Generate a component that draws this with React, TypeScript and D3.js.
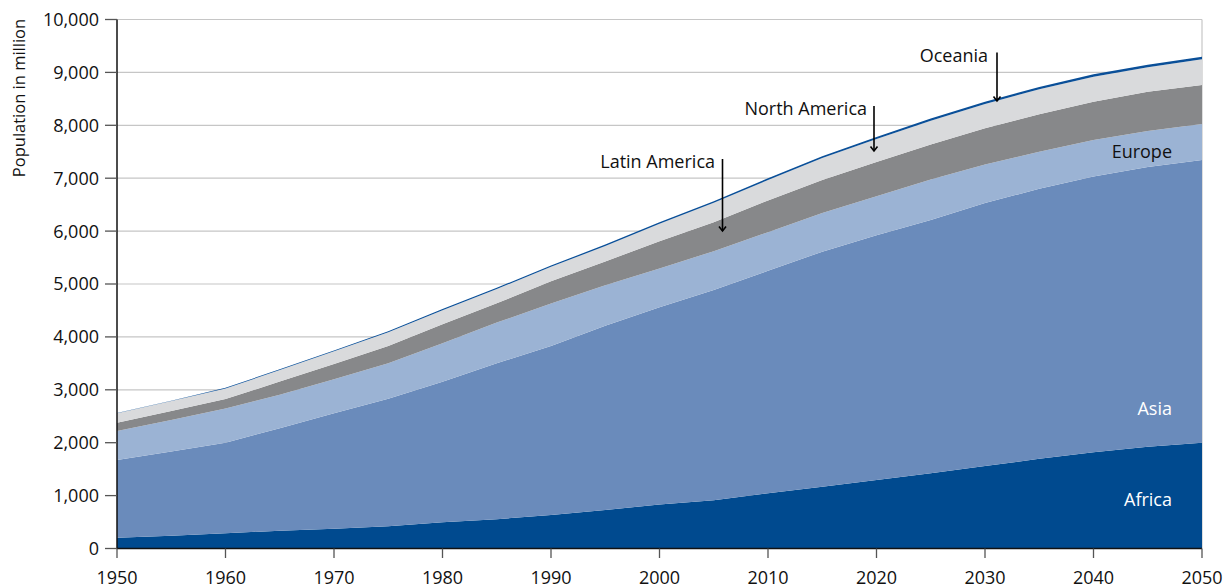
import React from "react";
import * as d3 from "d3";

const years = [1950, 1955, 1960, 1965, 1970, 1975, 1980, 1985, 1990, 1995, 2000, 2005, 2010, 2015, 2020, 2025, 2030, 2035, 2040, 2045, 2050];
const africa = [204, 242, 287, 337, 375, 420, 495, 555, 633, 728, 830, 910, 1043, 1168, 1295, 1421, 1560, 1695, 1820, 1924, 2000];
const asia = [1469, 1593, 1713, 1938, 2181, 2410, 2658, 2945, 3197, 3484, 3730, 3977, 4207, 4443, 4625, 4789, 4970, 5105, 5210, 5286, 5344];
const europe = [548, 595, 645, 630, 642, 670, 726, 770, 800, 763, 735, 733, 730, 729, 740, 765, 730, 700, 692, 680, 681];
const latinAmerica = [157, 168, 180, 250, 290, 330, 360, 365, 420, 450, 515, 545, 600, 625, 645, 660, 683, 710, 724, 745, 737];
const northAmerica = [178, 188, 200, 218, 240, 258, 266, 270, 275, 293, 330, 370, 386, 415, 435, 452, 460, 471, 473, 461, 486];
const oceania = [5, 8, 12, 15, 17, 19, 21, 23, 25, 27, 29, 31, 34, 36, 38, 40, 42, 44, 46, 48, 50];

const seriesKeys = ["Africa", "Asia", "Europe", "Latin America", "North America", "Oceania"];
const seriesValues = [africa, asia, europe, latinAmerica, northAmerica, oceania];
const colors = ["#004a8f", "#6a8bbb", "#9bb3d4", "#87888a", "#d9dadc", "#0a4f98"];

const yTicks = [0, 1000, 2000, 3000, 4000, 5000, 6000, 7000, 8000, 9000, 10000];
const xTicks = [1950, 1960, 1970, 1980, 1990, 2000, 2010, 2020, 2030, 2040, 2050];

const FONT = "'Open Sans', 'Noto Sans', sans-serif";

export default function App() {
  const W = 1232, H = 588;
  const x0 = 117, x1 = 1202, yTop = 19.5, yBot = 548.5;
  const x = d3.scaleLinear().domain([1950, 2050]).range([x0, x1]);
  const y = d3.scaleLinear().domain([0, 10000]).range([yBot, yTop]);

  const rows = years.map((yr, i) => {
    const r: any = { year: yr };
    seriesKeys.forEach((k, j) => (r[k] = seriesValues[j][i]));
    return r;
  });
  const stacked = d3.stack().keys(seriesKeys)(rows);
  const area = d3
    .area<any>()
    .x((d) => x(d.data.year))
    .y0((d) => y(d[0]))
    .y1((d) => y(d[1]));

  const fmt = d3.format(",");

  const arrow = (ax: number, ya: number, yb: number, key: string) => (
    <g key={key} stroke="#000" strokeWidth={1.6} fill="none">
      <line x1={ax} x2={ax} y1={ya} y2={yb} />
      <path d={`M${ax - 3.5},${yb - 4.5} L${ax},${yb} L${ax + 3.5},${yb - 4.5}`} />
    </g>
  );

  return (
    <svg width={W} height={H} style={{ position: "absolute", left: 0, top: 0, background: "#fff" }} fontFamily={FONT}>
      {yTicks.filter((t) => t > 0).map((t) => (
        <line key={"g" + t} x1={x0} x2={x1} y1={y(t)} y2={y(t)} stroke="#c6c6c6" strokeWidth={1.2} />
      ))}
      <line x1={x1} x2={x1} y1={yTop} y2={yBot} stroke="#c6c6c6" strokeWidth={1.2} />
      {stacked.map((s, i) => (
        <path key={s.key} d={area(s as any) || ""} fill={colors[i]} />
      ))}
      <line x1={x0} x2={x0} y1={yTop} y2={yBot} stroke="#111" strokeWidth={1.5} />
      <line x1={x0} x2={x1} y1={yBot} y2={yBot} stroke="#111" strokeWidth={1.5} />
      {yTicks.map((t) => (
        <g key={"y" + t}>
          <line x1={105} x2={x0} y1={y(t)} y2={y(t)} stroke="#555" strokeWidth={1.3} />
          <text x={99} y={y(t)} dy="0.36em" textAnchor="end" fontSize={18} fill="#111">
            {fmt(t)}
          </text>
        </g>
      ))}
      {xTicks.map((t) => (
        <g key={"x" + t}>
          <line x1={x(t)} x2={x(t)} y1={yBot} y2={558} stroke="#555" strokeWidth={1.3} />
          <text x={x(t)} y={584} textAnchor="middle" fontSize={18} fill="#111">
            {t}
          </text>
        </g>
      ))}
      <text transform="translate(25,98) rotate(-90)" textAnchor="middle" fontSize={16.5} fill="#111">
        Population in million
      </text>
      <text x={1172} y={158} textAnchor="end" fontSize={18} fill="#111">Europe</text>
      <text x={1172} y={415} textAnchor="end" fontSize={18} fill="#fff">Asia</text>
      <text x={1172} y={506} textAnchor="end" fontSize={18} fill="#fff">Africa</text>
      <text x={988} y={62} textAnchor="end" fontSize={18} fill="#111">Oceania</text>
      <text x={867} y={115} textAnchor="end" fontSize={18} fill="#111">North America</text>
      <text x={715} y={168} textAnchor="end" fontSize={18} fill="#111">Latin America</text>
      {arrow(997, 52.5, 101, "a1")}
      {arrow(874, 106, 151, "a2")}
      {arrow(722.5, 159, 231, "a3")}
    </svg>
  );
}
